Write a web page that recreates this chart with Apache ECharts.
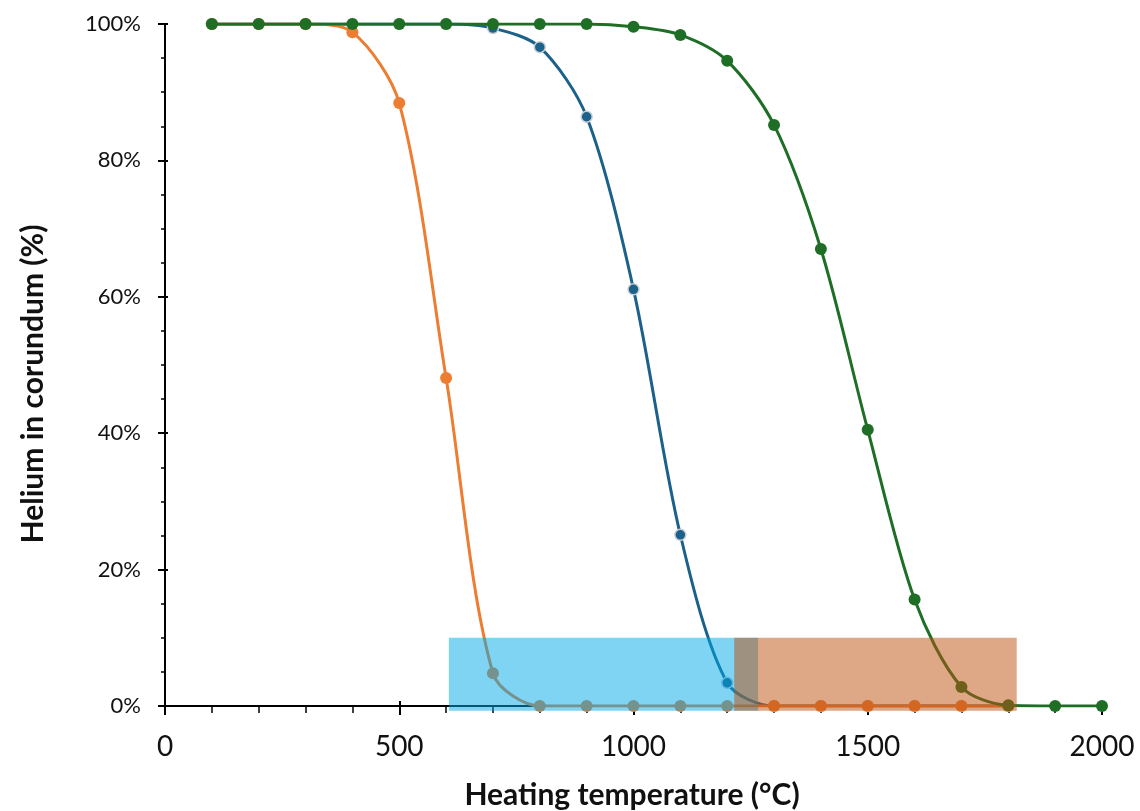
<!DOCTYPE html>
<html>
<head>
<meta charset="utf-8">
<script src="https://cdn.jsdelivr.net/npm/echarts@6/dist/echarts.min.js"></script>
<style>
html,body{margin:0;padding:0;background:#fff;}
#chart{width:1140px;height:811px;}
</style>
</head>
<body>
<div id="chart"></div>
<script>
// Heating temperature (°C)
const temps = [100,200,300,400,500,600,700,800,900,1000,1100,1200,1300,1400,1500,1600,1700,1800,1900,2000];
// Helium retained in corundum (%)
const orangeVals = [100,100,100,98.8,88.4,48.1,4.8,0,0,0,0,0,0,0,0,0,0,0];
const blueVals   = [100,100,100,100,100,100,99.4,96.6,86.4,61.1,25.1,3.4,0,0,0,0,0,0];
const greenVals  = [100,100,100,100,100,100,100,100,100,99.6,98.4,94.6,85.2,67.0,40.5,15.6,2.8,0.1,0,0];
// shaded temperature ranges [xStart, xEnd, yBottom, yTop]
const blueRange   = [606, 1266, -0.7, 10];
const orangeRange = [1215, 1818, -0.7, 10];
const xTicks = [0, 500, 1000, 1500, 2000];

function pairs(vals){ return vals.map((v,i)=>[temps[i], v]); }

const FONT = 'Lato, "Noto Sans", sans-serif';
const chart = echarts.init(document.getElementById('chart'), null, {renderer:'canvas'});

function rectSeries(range, color, z){
  return {
    type:'custom', z:z, silent:true, clip:false,
    xAxisIndex:0, yAxisIndex:0,
    data:[range],
    renderItem:function(params, api){
      const p0 = api.coord([api.value(0), api.value(3)]);
      const p1 = api.coord([api.value(1), api.value(2)]);
      return {type:'rect', shape:{x:p0[0], y:p0[1], width:p1[0]-p0[0], height:p1[1]-p0[1]}, style:{fill:color}};
    },
    encode:{x:[0,1], y:[2,3]}
  };
}

const axisLineStyle = {show:true, lineStyle:{color:'#000', width:2}};

chart.setOption({
  backgroundColor:'#fff',
  animation:false,
  grid:{left:165, right:38, top:24, bottom:105},
  xAxis:[{
    type:'value', min:0, max:2000, interval:500,
    axisLine:axisLineStyle,
    axisTick:{show:true, length:9, lineStyle:{color:'#000', width:2}},
    minorTick:{show:true, splitNumber:5, length:7, lineStyle:{color:'#000', width:1.5}},
    splitLine:{show:false},
    axisLabel:{color:'#111', fontSize:28, fontFamily:FONT, margin:27,
      formatter:function(v){ return xTicks.indexOf(v)>=0 ? String(v) : ''; }}
  },{
    type:'value', min:0, max:2000, interval:500, position:'bottom',
    axisLine:{show:false},
    axisTick:{show:true, inside:true, length:5, lineStyle:{color:'#000', width:2}},
    axisLabel:{show:false}, splitLine:{show:false}
  }],
  yAxis:[{
    type:'value', min:0, max:100, interval:20,
    axisLine:axisLineStyle,
    axisTick:{show:true, length:7, lineStyle:{color:'#000', width:2}},
    minorTick:{show:true, splitNumber:4, length:4, lineStyle:{color:'#000', width:1.5}},
    splitLine:{show:false},
    axisLabel:{color:'#111', fontSize:22, fontFamily:FONT, margin:24, formatter:'{value}%'}
  },{
    type:'value', min:0, max:100, interval:20, position:'left',
    axisLine:{show:false},
    axisTick:{show:true, inside:true, length:3, lineStyle:{color:'#000', width:2}},
    axisLabel:{show:false}, splitLine:{show:false}
  }],
  graphic:[
    {type:'text', x:632, y:795, style:{text:'Heating temperature (°C)', font:'bold 30px '+FONT, fill:'#111', align:'center', verticalAlign:'middle'}},
    {type:'text', x:33, y:384, rotation:Math.PI/2, style:{text:'Helium in corundum (%)', font:'bold 30px '+FONT, fill:'#111', align:'center', verticalAlign:'middle'}}
  ],
  series:[
    {name:'blue', type:'line', z:2, data:pairs(blueVals), smooth:0.3,
      symbol:'circle', symbolSize:11,
      lineStyle:{color:'#1b6189', width:3},
      itemStyle:{color:'#1b6189', borderColor:'#c9ced6', borderWidth:1.5}},
    {name:'orange', type:'line', z:3, data:pairs(orangeVals), smooth:0.3,
      symbol:'circle', symbolSize:12,
      lineStyle:{color:'#ed7d31', width:3},
      itemStyle:{color:'#ed7d31'}},
    {name:'green', type:'line', z:4, data:pairs(greenVals), smooth:0.3,
      symbol:'circle', symbolSize:12,
      lineStyle:{color:'#1e6e26', width:3},
      itemStyle:{color:'#1e6e26'}},
    rectSeries(blueRange, 'rgba(0,168,232,0.5)', 5),
    rectSeries(orangeRange, 'rgba(190,80,14,0.5)', 6)
  ]
});
</script>
</body>
</html>
